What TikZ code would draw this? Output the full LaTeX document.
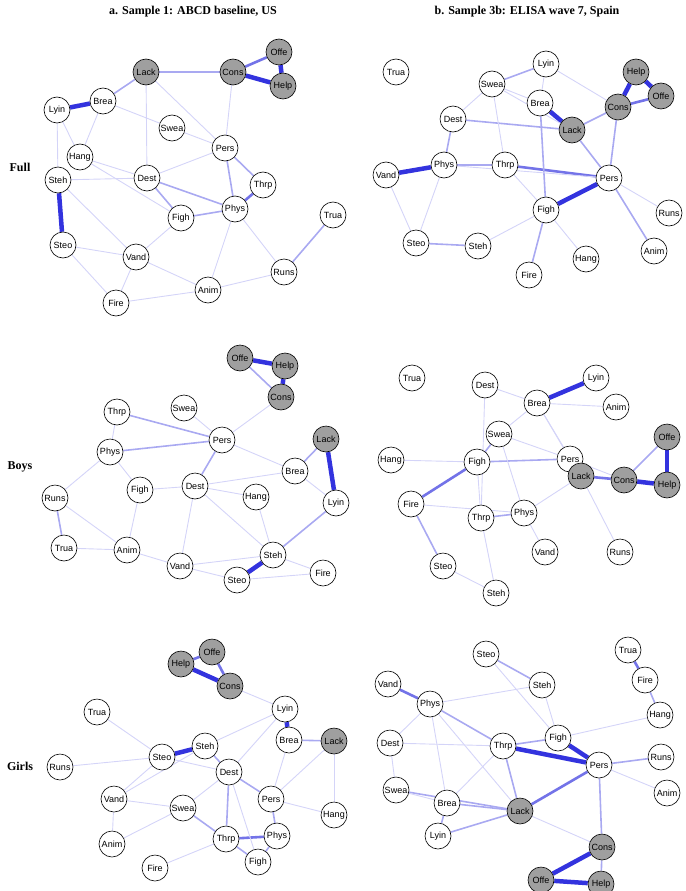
\documentclass[tikz,border=0pt]{standalone}
\usepackage{fontspec}
\setmainfont{Liberation Serif}
\newfontfamily\netfont{Liberation Sans}
\usetikzlibrary{backgrounds}
\definecolor{edgeblue}{RGB}{40,40,220}
\begin{document}
\begin{tikzpicture}[x=1pt,y=-1pt,
  var node/.style={circle,draw=black,fill=white,line width=0.6pt,minimum size=26pt,inner sep=0pt,font=\netfont\fontsize{9}{9}\selectfont},
  pos node/.style={var node,fill=gray!75},
  e1/.style={draw=edgeblue!20,line width=0.9pt},
  e2/.style={draw=edgeblue!40,line width=1.6pt},
  e3/.style={draw=edgeblue!65,line width=2.6pt},
  e4/.style={draw=edgeblue!95,line width=4.5pt},
  title/.style={font=\bfseries\fontsize{12}{12}\selectfont}]
\useasboundingbox (0,0) rectangle (685,891);
% titles
\node[title] (ta) at (193,12) {a. Sample 1: ABCD baseline, US};
\node[title] (tb) at (527,12) {b. Sample 3b: ELISA wave 7, Spain};
\node[title] (rf) at (20,167) {Full};
\node[title] (rb) at (20,467) {Boys};
\node[title] (rg) at (20,766) {Girls};
% panel a, full
\foreach \n/\x/\y in {Lyin/57/110,Brea/103/101,Swea/172/128,Pers/225/148,Hang/80/157,Dest/147/178,Thrp/263/185,Steh/58/180,Phys/235/209,Figh/181/218,Trua/333/215,Steo/63/245,Vand/136/257,Runs/284/272,Anim/208/290,Fire/116/303}
  \node[var node] (aF\n) at (\x,\y) {\n};
\foreach \n/\x/\y in {Lack/146/72,Cons/233/72,Offe/279/52,Help/283/86}
  \node[pos node] (aF\n) at (\x,\y) {\n};
% panel b, full
\foreach \n/\x/\y in {Trua/396/72,Lyin/546/64,Swea/492/84,Brea/540/103,Dest/453/119,Thrp/505/165,Phys/444/165,Pers/609/178,Vand/386/175,Runs/669/213,Figh/546/210,Anim/654/251,Steo/416/243,Steh/478/246,Hang/586/259,Fire/529/275}
  \node[var node] (bF\n) at (\x,\y) {\n};
\foreach \n/\x/\y in {Help/636/72,Offe/661/96,Cons/618/107,Lack/572/130}
  \node[pos node] (bF\n) at (\x,\y) {\n};
% panel a, boys
\foreach \n/\x/\y in {Swea/184/408,Thrp/117/412,Pers/222/440,Phys/110/452,Brea/295/471,Figh/140/490,Dest/195/486,Hang/256/497,Lyin/336/503,Runs/55/498,Trua/64/548,Anim/127/550,Vand/180/566,Steh/273/555,Fire/323/573,Steo/237/580}
  \node[var node] (aB\n) at (\x,\y) {\n};
\foreach \n/\x/\y in {Offe/240/358,Help/285/366,Cons/281/397,Lack/326/439}
  \node[pos node] (aB\n) at (\x,\y) {\n};
% panel b, boys
\foreach \n/\x/\y in {Trua/412/378,Lyin/596/378,Dest/485/385,Brea/537/403,Anim/616/407,Swea/499/434,Pers/570/459,Hang/391/460,Figh/477/462,Fire/411/504,Phys/524/513,Thrp/481/518,Vand/545/552,Runs/620/552,Steo/443/566,Steh/496/593}
  \node[var node] (bB\n) at (\x,\y) {\n};
\foreach \n/\x/\y in {Offe/667/437,Lack/581/476,Cons/624/480,Help/667/485}
  \node[pos node] (bB\n) at (\x,\y) {\n};
% panel a, girls
\foreach \n/\x/\y in {Trua/97/712,Lyin/285/709,Brea/289/740,Steh/205/746,Steo/162/757,Runs/60/767,Dest/229/772,Pers/271/799,Vand/114/799,Swea/183/808,Hang/334/815,Phys/277/836,Thrp/226/839,Anim/112/844,Figh/258/862,Fire/155/868}
  \node[var node] (aG\n) at (\x,\y) {\n};
\foreach \n/\x/\y in {Offe/212/652,Help/181/664,Cons/230/686,Lack/334/741}
  \node[pos node] (aG\n) at (\x,\y) {\n};
% panel b, girls
\foreach \n/\x/\y in {Trua/628/650,Steo/486/654,Fire/645/680,Vand/388/684,Steh/542/685,Phys/430/704,Hang/660/715,Dest/390/743,Figh/558/738,Thrp/503/746,Runs/661/757,Pers/599/765,Anim/667/793,Swea/396/790,Brea/447/803,Lyin/438/836}
  \node[var node] (bG\n) at (\x,\y) {\n};
\foreach \n/\x/\y in {Lack/520/811,Cons/602/847,Offe/541/880,Help/601/884}
  \node[pos node] (bG\n) at (\x,\y) {\n};
% edges
\begin{scope}[on background layer]
\foreach \a/\b/\w in {Offe/Help/e4,Cons/Help/e4,Cons/Offe/e3,Lyin/Brea/e4,Steh/Steo/e4,Thrp/Phys/e3,Lack/Cons/e2,Lack/Brea/e2,Pers/Phys/e2,Dest/Figh/e2,Dest/Phys/e2,Hang/Dest/e1,Runs/Trua/e2,Anim/Runs/e1,Vand/Steo/e1,Fire/Vand/e1,Lack/Dest/e1,Brea/Hang/e1,Lyin/Steh/e1,Steh/Dest/e1,Figh/Phys/e2,Pers/Thrp/e2,Swea/Pers/e1,Dest/Pers/e1,Vand/Figh/e1,Anim/Vand/e1,Fire/Anim/e1,Steo/Fire/e1,Hang/Figh/e1,Brea/Swea/e1,Phys/Runs/e1,Lack/Pers/e1,Cons/Pers/e1,Steh/Vand/e1,Lyin/Hang/e1,Anim/Phys/e1}
  \path[\w] (aF\a) -- (aF\b);
\foreach \a/\b/\w in {Help/Offe/e4,Cons/Offe/e3,Cons/Help/e4,Lack/Brea/e4,Lack/Cons/e2,Phys/Vand/e4,Pers/Figh/e4,Thrp/Pers/e3,Phys/Thrp/e2,Steo/Steh/e2,Swea/Lyin/e2,Dest/Lack/e2,Pers/Anim/e2,Pers/Cons/e2,Figh/Fire/e2,Figh/Hang/e1,Dest/Phys/e2,Swea/Brea/e1,Brea/Lyin/e1,Lack/Pers/e2,Swea/Thrp/e1,Phys/Steo/e1,Steh/Figh/e1,Lyin/Cons/e1,Brea/Figh/e2,Dest/Swea/e1,Pers/Runs/e1,Phys/Pers/e1,Vand/Steo/e1,Thrp/Figh/e1,Swea/Lack/e1}
  \path[\w] (bF\a) -- (bF\b);
\foreach \a/\b/\w in {Offe/Help/e4,Help/Cons/e4,Offe/Cons/e2,Lack/Lyin/e4,Steh/Steo/e4,Thrp/Pers/e2,Phys/Pers/e2,Brea/Lack/e2,Dest/Pers/e2,Runs/Trua/e2,Thrp/Phys/e1,Swea/Pers/e1,Figh/Dest/e1,Phys/Figh/e1,Dest/Hang/e1,Brea/Dest/e1,Brea/Lyin/e1,Lyin/Steh/e2,Dest/Vand/e1,Vand/Steh/e1,Anim/Vand/e1,Steh/Fire/e1,Steo/Fire/e1,Runs/Phys/e1,Anim/Trua/e1,Pers/Cons/e1,Pers/Brea/e1,Dest/Steh/e1,Vand/Steo/e1,Runs/Anim/e1,Figh/Anim/e1,Hang/Steh/e1}
  \path[\w] (aB\a) -- (aB\b);
\foreach \a/\b/\w in {Offe/Help/e4,Cons/Help/e4,Lack/Cons/e3,Brea/Lyin/e4,Figh/Fire/e3,Pers/Lack/e2,Phys/Thrp/e2,Swea/Figh/e2,Dest/Brea/e1,Brea/Swea/e1,Swea/Pers/e1,Pers/Cons/e1,Figh/Pers/e2,Hang/Figh/e1,Fire/Steo/e2,Steo/Steh/e1,Phys/Vand/e1,Lack/Runs/e1,Phys/Lack/e1,Brea/Anim/e1,Brea/Pers/e1,Figh/Thrp/e1,Dest/Thrp/e1,Brea/Lack/e1,Offe/Cons/e2,Thrp/Steh/e1,Fire/Phys/e1,Swea/Phys/e1}
  \path[\w] (bB\a) -- (bB\b);
\foreach \a/\b/\w in {Offe/Help/e3,Help/Cons/e4,Offe/Cons/e3,Lyin/Brea/e4,Steh/Steo/e4,Thrp/Phys/e3,Lack/Brea/e2,Pers/Phys/e2,Figh/Phys/e2,Thrp/Figh/e2,Cons/Lyin/e1,Steh/Dest/e2,Dest/Pers/e2,Dest/Thrp/e2,Swea/Thrp/e2,Vand/Swea/e1,Vand/Anim/e1,Anim/Swea/e1,Fire/Thrp/e1,Runs/Steo/e1,Trua/Steo/e1,Vand/Steo/e1,Brea/Pers/e1,Pers/Hang/e1,Lack/Hang/e1,Steh/Lyin/e1,Dest/Figh/e1,Lack/Pers/e1,Steo/Dest/e1,Vand/Steh/e1,Swea/Dest/e1,Lyin/Dest/e1}
  \path[\w] (aG\a) -- (aG\b);
\foreach \a/\b/\w in {Offe/Help/e4,Offe/Cons/e4,Help/Cons/e2,Thrp/Pers/e4,Figh/Pers/e4,Lack/Pers/e3,Vand/Phys/e3,Trua/Fire/e3,Lyin/Brea/e2,Swea/Lack/e2,Brea/Lack/e2,Steo/Steh/e2,Phys/Thrp/e2,Thrp/Lack/e2,Pers/Runs/e2,Pers/Anim/e1,Fire/Hang/e2,Pers/Cons/e2,Dest/Phys/e1,Dest/Swea/e1,Swea/Brea/e1,Lyin/Lack/e2,Phys/Lack/e1,Phys/Steh/e1,Steh/Figh/e1,Thrp/Figh/e2,Lack/Cons/e1,Brea/Thrp/e1,Phys/Brea/e1,Figh/Hang/e1,Dest/Thrp/e1,Steo/Figh/e1}
  \path[\w] (bG\a) -- (bG\b);
\end{scope}
\end{tikzpicture}
\end{document}
